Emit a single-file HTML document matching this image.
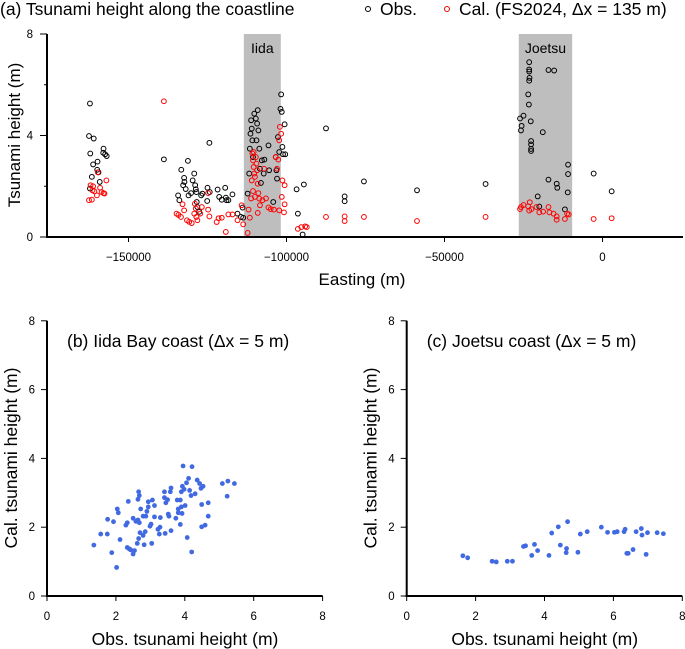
<!DOCTYPE html>
<html><head><meta charset="utf-8">
<style>
html,body{margin:0;padding:0;background:#fff;}
svg{display:block;font-family:"Liberation Sans",Arial,sans-serif;}
</style></head>
<body>
<svg id="fig" width="685" height="649" viewBox="0 0 685 649" xmlns="http://www.w3.org/2000/svg">
<text x="0" y="15" font-size="17.5">(a) Tsunami height along the coastline</text>
<g>
<circle cx="368" cy="9" r="2.5" fill="none" stroke="#000" stroke-width="1"/>
<text x="380" y="15" font-size="17.5">Obs.</text>
<circle cx="447" cy="9" r="2.5" fill="none" stroke="#e00" stroke-width="1"/>
<text x="459" y="15" font-size="17.5">Cal. (FS2024, Δx = 135 m)</text>
</g>
<g id="top"></g>
<g id="pb"></g>
<g id="pc"></g>
</svg>
<script>
const NS="http://www.w3.org/2000/svg";
// Panel (a) data: easting in km, height in m
const obsE=[-162.2,-162.5,-161.0,-162.1,-161.2,-159.8,-159.9,-159.5,-161.6,-159.1,-162.2,-157.9,-158.0,-157.4,-156.9,-138.8,-134.3,-133.9,-133.3,-132.7,-132.4,-132.3,-131.9,-131.2,-131,-130.2,-129.7,-129.2,-128.9,-128.7,-128.5,-128.4,-128.2,-127.6,-127,-126.6,-125,-125.1,-124.4,-124.3,-121.8,-121.3,-120.5,-119.4,-119.2,-119,-118.4,-117.1,-115.5,-114.4,-113.7,-113.9,-112.3,-111.8,-111.6,-111.4,-111.2,-110.8,-111,-110.6,-110.2,-109.7,-109.5,-109.3,-109.1,-108.9,-108.6,-108.4,-108.1,-107.8,-107.2,-107,-105.7,-105.5,-104.2,-103.4,-103.2,-103,-102.7,-102.3,-101.9,-101.7,-101.5,-101.3,-101.1,-100.6,-100.4,-96.8,-96.4,-94.9,-94.5,-87.5,-81.6,-81.6,-75.5,-58.7,-37,-23.2,-23.2,-23.2,-23.1,-23.2,-23.5,-23.3,-26.1,-25,-25.6,-25.8,-22.7,-22.6,-22.6,-22.6,-22.6,-18.9,-17.1,-15.3,-10.9,-10.9,-11,-20.5,-20,-17.1,-14.5,-14.3,-11.9,-2.8,2.9];
const obsH=[5.26,3.98,3.88,3.29,2.86,2.97,2.65,2.55,2.37,2.17,1.91,3.48,3.32,3.26,3.19,3.06,1.64,1.45,2.65,2.04,2.33,2.17,1.89,3.0,1.64,1.73,2.23,2.5,2.04,1.88,1.77,1.38,1.18,0.99,1.64,1.71,1.94,1.42,3.71,1.77,1.87,1.58,1.47,1.94,1.55,1.45,1.45,1.68,0.92,0.79,0.76,1.16,1.71,2.5,3.48,4.07,4.6,3.81,4.27,3.15,4.86,4.67,3.81,4.47,5.0,4.2,3.48,2.69,2.13,3.02,2.5,3.05,3.61,2.63,1.38,3.15,2.63,2.3,3.94,3.35,5.05,5.62,4.93,3.55,3.26,4.44,3.26,1.88,0.92,0.1,2.07,4.28,1.6,1.41,2.19,1.84,2.09,6.89,6.6,6.52,6.27,6.16,5.62,5.22,4.67,4.78,4.38,4.2,4.56,3.78,3.65,3.47,3.39,4.13,6.58,6.56,2.85,2.48,1.76,1.6,1.2,2.26,2.1,1.94,1.09,2.5,1.8];
const calE=[-162,-161.2,-162.5,-161.6,-160.8,-160,-159.7,-159,-158.5,-157.9,-157.6,-157,-161.4,-138.8,-134.8,-134.2,-133.4,-132.9,-132.4,-131.5,-130.8,-130,-129.2,-129,-128.7,-128.5,-128.2,-127.3,-126.8,-124.8,-124.8,-124.4,-122.1,-121.5,-120.5,-119.2,-118.4,-117.1,-115.5,-114.2,-113.7,-112.3,-112,-111.6,-111.2,-111,-110.8,-110.6,-110.4,-110.2,-110,-110.4,-109.7,-109.5,-109.3,-109.1,-108.9,-108.6,-108.4,-109.1,-110.6,-110,-107.6,-106.5,-105.7,-107.1,-105,-104,-103.4,-103,-102.6,-102.3,-102.1,-101.7,-101.5,-101.3,-100.6,-100.6,-100.8,-96.4,-95.3,-94.1,-93.6,-87.5,-102.3,-81.6,-81.6,-75.5,-58.7,-37,-26.1,-25.8,-25,-23.5,-23,-23.2,-22.5,-20.9,-20,-18.8,-17.1,-16.8,-15.5,-14.5,-14.5,-11.9,-11.2,-10.7,-2.8,2.9];
const calH=[2.04,2.0,1.45,1.47,1.8,1.64,2.55,1.94,1.77,1.73,1.71,2.23,1.84,5.35,0.92,0.87,0.79,1.29,1.05,0.66,0.6,0.55,0.92,1.31,1.12,0.79,0.66,0.92,1.18,1.73,1.08,0.81,0.59,0.74,0.76,0.2,0.89,0.89,0.66,1.25,0.5,0.16,1.08,0.76,1.52,2.23,3.29,3.02,2.76,2.5,2.37,3.35,3.15,2.89,2.63,2.1,1.73,1.51,1.25,0.95,1.81,1.58,1.45,1.52,1.16,2.69,1.1,1.08,3.15,2.69,3.05,3.81,4.34,4.07,1.58,2.23,2.04,1.29,0.97,0.32,0.39,0.42,0.39,0.79,1.05,0.81,0.63,0.79,0.63,0.79,1.1,1.18,1.26,1.21,1.37,1.04,1.1,1.18,0.97,1.0,1.18,0.97,0.92,0.81,0.68,0.71,0.92,0.89,0.71,0.74];
const bandNames=["Iida","Joetsu"];
const bandStart=[-113.5,-26.5];
const bandEnd=[-101.8,-9.6];
const topXTicks=[-150,-100,-50,0];
const topXTickLabels=["−150000","−100000","−50000","0"];
const topYTicks=[0,2,4,6,8];
// Panel (b) Iida
const iidaObs=[1.36,1.56,1.75,1.76,1.88,1.93,2.02,2.04,2.07,2.12,2.29,2.33,2.36,2.33,2.39,2.43,2.5,2.54,2.5,2.58,2.64,2.68,2.66,2.68,2.64,2.72,2.62,2.66,2.7,2.79,2.85,2.82,2.79,2.87,2.9,2.94,2.94,3.06,3.12,2.99,3.02,3.04,3.12,3.22,3.26,3.28,3.29,3.41,3.41,3.45,3.5,3.43,3.52,3.54,3.58,3.6,3.6,3.74,3.78,3.81,3.81,3.87,3.9,3.92,3.87,3.9,3.93,3.95,3.98,4.01,4.07,4.05,4.11,4.14,4.18,4.2,4.21,4.3,4.36,4.43,4.47,4.53,4.49,4.49,4.59,4.68,4.68,5.09,5.25,5.23,5.44];
const iidaCal=[1.48,1.8,1.8,2.23,1.26,2.16,0.83,2.53,2.42,1.64,2.06,2.13,2.75,1.41,1.37,1.34,1.22,1.32,2.26,2.17,2.21,2.13,3.03,2.92,2.81,2.53,1.53,1.67,1.84,1.76,1.87,1.49,2.32,2.32,2.46,2.59,2.74,2.79,2.63,2.03,2.09,1.53,2.3,1.94,1.8,2.0,2.28,3.03,2.86,2.71,2.8,1.82,2.38,2.32,3.03,3.14,1.9,2.26,2.79,2.53,2.42,2.79,2.59,2.4,2.08,3.03,3.19,3.78,3.1,2.63,1.7,3.29,3.42,3.07,2.92,1.28,3.76,2.97,3.37,3.27,3.13,3.19,2.66,2.01,2.06,2.71,2.32,3.27,3.34,2.9,3.27];
// Panel (c) Joetsu
const joeObs=[1.63,1.77,2.48,2.6,2.92,3.07,3.39,3.45,3.63,3.71,3.8,4.13,4.21,4.4,4.46,4.64,4.63,4.67,4.97,5.04,5.24,5.65,5.83,6.03,6.11,6.31,6.34,6.39,6.43,6.57,6.66,6.81,6.83,6.95,6.99,7.27,7.45];
const joeCal=[1.17,1.11,1.01,0.99,1.01,1.01,1.44,1.46,1.18,1.5,1.32,1.18,1.83,2.01,1.48,1.38,1.26,2.16,1.27,1.8,1.87,2.0,1.85,1.85,1.87,1.87,1.94,1.24,1.24,1.35,1.87,1.96,1.77,1.21,1.84,1.84,1.81];
const scTicks=[0,2,4,6,8];

function mk(parent,tag,attrs,txt){const e=document.createElementNS(NS,tag);for(const k in attrs)e.setAttribute(k,attrs[k]);if(txt!==undefined)e.textContent=txt;parent.appendChild(e);return e;}

// Top panel
const T=document.getElementById('top');
const tx=e=>602.5+e*158/50;
const ty=h=>237-h*25.375;
for(let i=0;i<bandNames.length;i++){
  const r=mk(T,'rect',{x:tx(bandStart[i]),y:ty(8),width:tx(bandEnd[i])-tx(bandStart[i]),height:ty(0)-ty(8),fill:'#bebebe'});
  
  
  const t=mk(T,'text',{x:(tx(bandStart[i])+tx(bandEnd[i]))/2,y:53,'font-size':14,'text-anchor':'middle'},bandNames[i]);
  
  
}
let a=mk(T,'line',{x1:47,y1:ty(8),x2:47,y2:ty(0)+1,stroke:'#000','stroke-width':2});

a=mk(T,'line',{x1:46,y1:ty(0),x2:683,y2:ty(0),stroke:'#000','stroke-width':2});

topYTicks.forEach(v=>{
  const lab=v%4===0;
  const l=mk(T,'line',{x1:lab?40:44,y1:ty(v),x2:47,y2:ty(v),stroke:'#000','stroke-width':1});
  
  if(lab){const t=mk(T,'text',{x:33,y:ty(v)+4,'font-size':11.5,'text-anchor':'end'},String(v));
  }
});
topXTicks.forEach((v,i)=>{
  const l=mk(T,'line',{x1:tx(v),y1:ty(0),x2:tx(v),y2:ty(0)+5,stroke:'#000','stroke-width':1});
  
  const t=mk(T,'text',{x:tx(v),y:261,'font-size':11.5,'text-anchor':'middle'},topXTickLabels[i]);
  
});
let tt=mk(T,'text',{x:362,y:285,'font-size':17,'text-anchor':'middle'},'Easting (m)');

tt=mk(T,'text',{x:0,y:0,'font-size':17,'text-anchor':'middle',transform:'translate(20,135) rotate(-90)'},'Tsunami height (m)');

obsE.forEach((e,i)=>{const c=mk(T,'circle',{cx:tx(e),cy:ty(obsH[i]),r:2.4,fill:'none',stroke:'#000','stroke-width':1});
});
calE.forEach((e,i)=>{const c=mk(T,'circle',{cx:tx(e),cy:ty(calH[i]),r:2.4,fill:'none',stroke:'#f00','stroke-width':1});
});

// Scatter panels
function scatter(id,left,xs,ys,title){
  const G=document.getElementById(id);
  const sx=v=>left+v*34.45, sy=v=>596-v*34.4;
  let l=mk(G,'line',{x1:left,y1:sy(8),x2:left,y2:sy(0)+1,stroke:'#000','stroke-width':2});
  
  l=mk(G,'line',{x1:left-1,y1:sy(0),x2:sx(8),y2:sy(0),stroke:'#000','stroke-width':2});
  
  scTicks.forEach(v=>{
    let k=mk(G,'line',{x1:left-6,y1:sy(v),x2:left,y2:sy(v),stroke:'#000','stroke-width':1});
    
    let t=mk(G,'text',{x:left-12,y:sy(v)+4,'font-size':11.5,'text-anchor':'end'},String(v));
    
    k=mk(G,'line',{x1:sx(v),y1:sy(0),x2:sx(v),y2:sy(0)+5,stroke:'#000','stroke-width':1});
    
    t=mk(G,'text',{x:sx(v),y:620,'font-size':11.5,'text-anchor':'middle'},String(v));
    
  });
  let t=mk(G,'text',{x:left+20,y:347,'font-size':17.5},title);
  
  t=mk(G,'text',{x:left+138,y:645,'font-size':17.5,'text-anchor':'middle'},'Obs. tsunami height (m)');
  
  t=mk(G,'text',{x:0,y:0,'font-size':17.5,'text-anchor':'middle',transform:'translate('+(left-30)+',458) rotate(-90)'},'Cal. tsunami height (m)');
  
  xs.forEach((v,i)=>{const c=mk(G,'circle',{cx:sx(v),cy:sy(ys[i]),r:2.4,fill:'#4169e1'});
  });
}
scatter('pb',47,iidaObs,iidaCal,'(b) Iida Bay coast (Δx = 5 m)');
scatter('pc',406.7,joeObs,joeCal,'(c) Joetsu coast (Δx = 5 m)');
</script>
</body></html>
